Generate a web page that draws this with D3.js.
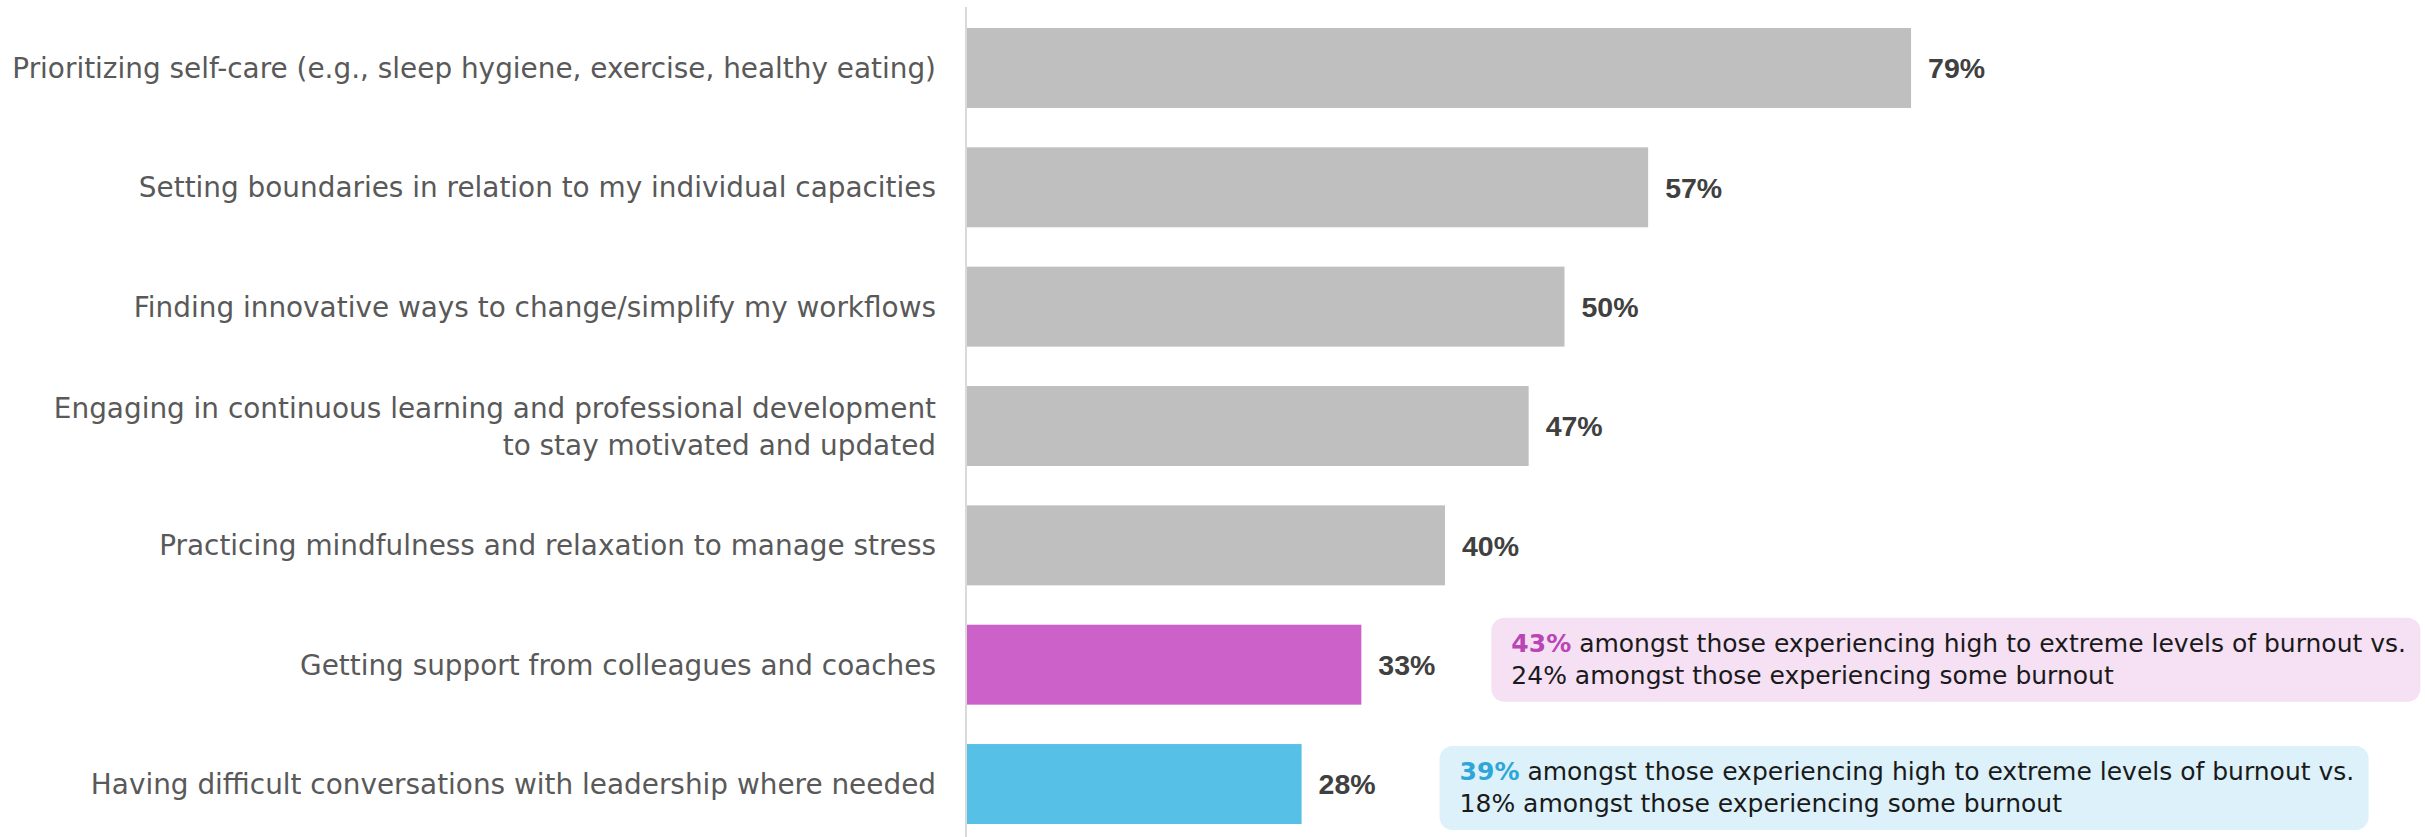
<!DOCTYPE html>
<html>
<head>
<meta charset="utf-8">
<script src="https://cdn.jsdelivr.net/npm/d3@7"></script>
<style>
  html, body { margin: 0; padding: 0; background: #ffffff; }
  svg { display: block; }
</style>
</head>
<body>
<svg id="chart" width="2425" height="837"></svg>
<script>
// Strategies respondents use to cope (share of respondents, %)
const categories = [
  "Prioritizing self-care (e.g., sleep hygiene, exercise, healthy eating)",
  "Setting boundaries in relation to my individual capacities",
  "Finding innovative ways to change/simplify my workflows",
  "Engaging in continuous learning and professional development\nto stay motivated and updated",
  "Practicing mindfulness and relaxation to manage stress",
  "Getting support from colleagues and coaches",
  "Having difficult conversations with leadership where needed"
];
const values = [79, 57, 50, 47, 40, 33, 28];

// Breakdown by burnout level for the highlighted strategies
const noteCategories = [
  "Getting support from colleagues and coaches",
  "Having difficult conversations with leadership where needed"
];
const noteHigh = [43, 39];
const noteSome = [24, 18];

const width = 2425, height = 837;
const svg = d3.select("#chart");
const labelFont = "'DejaVu Sans', 'Liberation Sans', sans-serif";

const x = d3.scaleLinear().domain([0, 100]).range([967, 2162]);
const y = d3.scaleBand()
  .domain(categories)
  .range([8.3, 843.7])
  .paddingInner(0.33)
  .paddingOuter(0.165);

const barColor = d3.scaleOrdinal()
  .domain(noteCategories)
  .range(["#cc62c9", "#56c0e7"])
  .unknown("#bfbfbf");
const accentColor = d3.scaleOrdinal().domain(noteCategories).range(["#b846b4", "#2ea6d9"]);
const boxFill = d3.scaleOrdinal().domain(noteCategories).range(["#f5e0f4", "#dcf1fa"]);

// scale a text selection's font so that its widest measured line spans targetWidth
function fitFont(textSel, lineSelector, baseSize, targetWidth) {
  textSel.style("font-size", baseSize + "px");
  let maxW = 0;
  textSel.selectAll(lineSelector).each(function() {
    maxW = Math.max(maxW, this.getComputedTextLength());
  });
  textSel.style("font-size", (baseSize * targetWidth / maxW) + "px");
}

// bars
svg.append("g")
  .selectAll("rect")
  .data(categories)
  .join("rect")
  .attr("x", x(0))
  .attr("y", d => y(d))
  .attr("width", (d, i) => x(values[i]) - x(0))
  .attr("height", y.bandwidth())
  .attr("fill", d => barColor(d));

// category axis on the left: wrapped labels plus the baseline
const yAxis = d3.axisLeft(y).tickSize(0).tickFormat("");
const axisG = svg.append("g")
  .attr("transform", `translate(${x(0) - 1},0)`)
  .call(yAxis);
axisG.select(".domain").remove();
axisG.append("line")
  .attr("x1", 0).attr("x2", 0)
  .attr("y1", 7).attr("y2", height)
  .attr("stroke", "#d9d9d9").attr("stroke-width", 2);

const catLabels = axisG.selectAll(".tick").append("text")
  .attr("text-anchor", "end")
  .attr("fill", "#595959")
  .style("font-family", labelFont);
catLabels.each(function(d) {
  const lines = d.split("\n");
  const lh = 37;
  lines.forEach((ln, k) => {
    d3.select(this).append("tspan")
      .attr("class", "line")
      .attr("x", -30)
      .attr("y", (k - (lines.length - 1) / 2) * lh)
      .attr("dy", "0.36em")
      .text(ln);
  });
});
fitFont(catLabels, "tspan.line", 28, 924);

// value labels
svg.append("g")
  .selectAll("text")
  .data(categories)
  .join("text")
  .attr("x", (d, i) => x(values[i]) + 17)
  .attr("y", d => y(d) + y.bandwidth() / 2)
  .attr("dy", "0.36em")
  .attr("fill", "#404040")
  .style("font-family", "'Liberation Sans', Arial, sans-serif")
  .style("font-weight", "bold")
  .style("font-size", "28.5px")
  .text((d, i) => values[i] + "%");

// annotation boxes
const boxW = 929, boxH = 84;
const boxGap = [130, 138];
const boxShift = [-7, 2];
const notes = svg.append("g")
  .selectAll("g")
  .data(noteCategories)
  .join("g")
  .attr("transform", (d, i) => {
    const v = values[categories.indexOf(d)];
    return `translate(${x(v) + boxGap[i]},${y(d) + boxShift[i]})`;
  });

notes.append("rect")
  .attr("width", boxW)
  .attr("height", boxH)
  .attr("rx", 13)
  .attr("fill", d => boxFill(d));

const noteText = notes.append("text")
  .style("font-family", labelFont)
  .attr("fill", "#1a1a1a");

const firstLine = noteText.append("tspan")
  .attr("class", "line")
  .attr("x", 20).attr("y", 34);
firstLine.append("tspan")
  .attr("fill", d => accentColor(d))
  .style("font-weight", "bold")
  .text((d, i) => noteHigh[i] + "%");
firstLine.append("tspan")
  .text(" amongst those experiencing high to extreme levels of burnout vs.");
noteText.append("tspan")
  .attr("class", "line")
  .attr("x", 20).attr("y", 66)
  .text((d, i) => noteSome[i] + "% amongst those experiencing some burnout");
fitFont(noteText, "tspan.line", 25, 895);
</script>
</body>
</html>
